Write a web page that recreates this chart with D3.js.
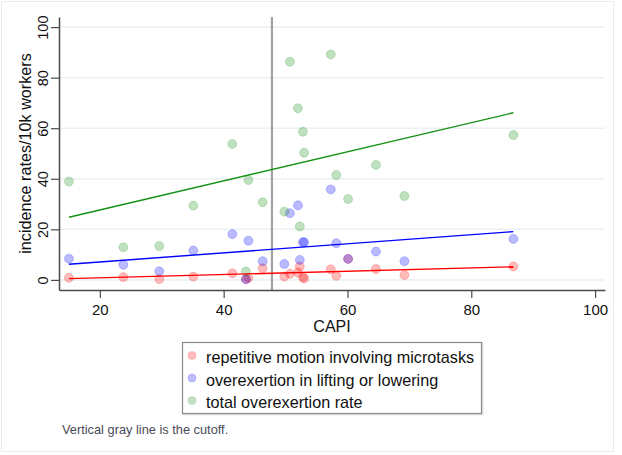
<!DOCTYPE html>
<html>
<head>
<meta charset="utf-8">
<script src="https://cdn.jsdelivr.net/npm/d3@7"></script>
<style>
  body { margin: 0; background: #fff; }
  text { font-family: "Liberation Sans", Arial, sans-serif; }
</style>
</head>
<body>
<svg id="chart"></svg>
<script>
var width = 622,
  height = 455;

// CAPI score per occupation, and the three incidence rates (per 10k workers)
var capi = [15.0, 23.8, 29.6, 35.1, 41.4, 43.6, 44.0, 46.3, 49.8, 50.7, 52.0, 52.3, 52.8, 53.0, 57.3, 58.2, 60.1, 64.6, 69.2, 86.8];
var repetitive = [0.8, 1.1, 0.3, 1.3, 2.6, 0.3, 0.8, 4.6, 1.3, 2.4, 2.9, 5.3, 1.1, 0.5, 4.2, 1.6, 8.3, 4.3, 1.9, 5.3];
var lifting = [8.4, 6.0, 3.4, 11.6, 18.1, 0.3, 15.5, 7.4, 6.3, 26.4, 29.5, 7.9, 14.9, 14.9, 35.8, 14.5, 8.3, 11.2, 7.4, 16.2];
var total = [38.9, 12.9, 13.4, 29.4, 53.8, 3.3, 39.5, 30.7, 27.0, 86.3, 67.9, 21.1, 58.6, 50.3, 89.2, 41.5, 32.0, 45.5, 33.2, 57.3];

// fitted lines, endpoints
var fitRepetitive = [[15.0, 0.5], [86.8, 5.2]];
var fitLifting = [[15.0, 6.2], [86.8, 19.1]];
var fitTotal = [[15.0, 24.8], [86.8, 66.1]];

var cutoff = 47.8;

var xTicks = [20, 40, 60, 80, 100];
var yTicks = [0, 20, 40, 60, 80, 100];

var seriesNames = ['repetitive motion involving microtasks', 'overexertion in lifting or lowering', 'total overexertion rate'];
var seriesColors = ['#ff0000', '#0000ff', '#159115'];

var x = d3.scaleLinear()
  .domain([13.4, 101.6])
  .range([59, 605]);

var y = d3.scaleLinear()
  .domain([-4, 104])
  .range([290, 17]);

var svg = d3.select('#chart')
  .attr('width', width)
  .attr('height', height);

svg.append('rect')
  .attr('x', 1.5)
  .attr('y', 1.5)
  .attr('width', 612)
  .attr('height', 450)
  .attr('fill', '#fff')
  .attr('stroke', '#ececec');

// grid
svg.append('g')
  .selectAll('line')
  .data(yTicks)
  .enter().append('line')
  .attr('x1', x.range()[0])
  .attr('x2', x.range()[1])
  .attr('y1', function(d) { return y(d); })
  .attr('y2', function(d) { return y(d); })
  .attr('stroke', '#e9f1f3')
  .attr('stroke-width', 1.5);

// cutoff
svg.append('line')
  .attr('x1', x(cutoff))
  .attr('x2', x(cutoff))
  .attr('y1', y.range()[1])
  .attr('y2', y.range()[0])
  .attr('stroke', '#a2a2a2')
  .attr('stroke-width', 2.2);

// scatter
var sets = [repetitive, lifting, total];
sets.forEach(function(vals, i) {
  svg.append('g')
    .selectAll('circle')
    .data(vals)
    .enter().append('circle')
    .attr('cx', function(d, j) { return x(capi[j]); })
    .attr('cy', function(d) { return y(d); })
    .attr('r', 4.5)
    .attr('fill', seriesColors[i])
    .attr('fill-opacity', 0.27)
    .attr('stroke', seriesColors[i])
    .attr('stroke-opacity', 0.2)
    .attr('stroke-width', 1);
});

// fit lines
var line = d3.line()
  .x(function(d) { return x(d[0]); })
  .y(function(d) { return y(d[1]); });

[fitRepetitive, fitLifting, fitTotal].forEach(function(f, i) {
  svg.append('path')
    .datum(f)
    .attr('d', line)
    .attr('fill', 'none')
    .attr('stroke', seriesColors[i])
    .attr('stroke-width', 1.4);
});

// axes
var xAxis = svg.append('g')
  .attr('transform', 'translate(0,290)')
  .call(d3.axisBottom(x).tickValues(xTicks).tickSize(8).tickPadding(6).tickSizeOuter(0));

var yAxis = svg.append('g')
  .attr('transform', 'translate(59,0)')
  .call(d3.axisLeft(y).tickValues(yTicks).tickSize(8).tickSizeOuter(0));

[xAxis, yAxis].forEach(function(a) {
  a.select('.domain').attr('stroke', '#4a4a4a').attr('stroke-width', 1.5);
  a.selectAll('.tick line').attr('stroke', '#4a4a4a').attr('stroke-width', 1.2);
  a.selectAll('.tick text').attr('fill', '#111').style('font-size', '15px');
});

yAxis.selectAll('.tick text')
  .attr('transform', 'rotate(-90)')
  .attr('x', 0)
  .attr('y', -11)
  .attr('dy', 0)
  .attr('text-anchor', 'middle')
  .style('font-size', '14.5px');

svg.append('text')
  .attr('transform', 'translate(31,' + (y(50)) + ')rotate(-90)')
  .attr('text-anchor', 'middle')
  .attr('fill', '#111')
  .style('font-size', '16.2px')
  .text('incidence rates/10k workers');

svg.append('text')
  .attr('x', 332)
  .attr('y', 332)
  .attr('text-anchor', 'middle')
  .attr('fill', '#111')
  .style('font-size', '16px')
  .text('CAPI');

// legend
var legend = svg.append('g');

legend.append('rect')
  .attr('x', 183.5)
  .attr('y', 343.5)
  .attr('width', 299)
  .attr('height', 71)
  .attr('fill', 'none')
  .attr('stroke', '#e4e4e4')
  .attr('stroke-width', 2);

legend.append('rect')
  .attr('x', 182.5)
  .attr('y', 342.5)
  .attr('width', 299)
  .attr('height', 71)
  .attr('fill', '#fff')
  .attr('stroke', '#8a8a8a')
  .attr('stroke-width', 1.2);

var items = legend.selectAll('.item')
  .data(seriesNames)
  .enter().append('g')
  .attr('class', 'item')
  .attr('transform', function(d, i) { return 'translate(192,' + (355.5 + i * 22.5) + ')'; });

items.append('circle')
  .attr('r', 4)
  .attr('fill', function(d, i) { return seriesColors[i]; })
  .attr('fill-opacity', 0.25)
  .attr('stroke', function(d, i) { return seriesColors[i]; })
  .attr('stroke-opacity', 0.15);

items.append('text')
  .attr('x', 14)
  .attr('y', 7.5)
  .attr('fill', '#111')
  .style('font-size', '16.2px')
  .text(function(d) { return d; });

svg.append('text')
  .attr('x', 62)
  .attr('y', 434)
  .attr('fill', '#4a4a58')
  .style('font-size', '12.8px')
  .text('Vertical gray line is the cutoff.');
</script>
</body>
</html>
